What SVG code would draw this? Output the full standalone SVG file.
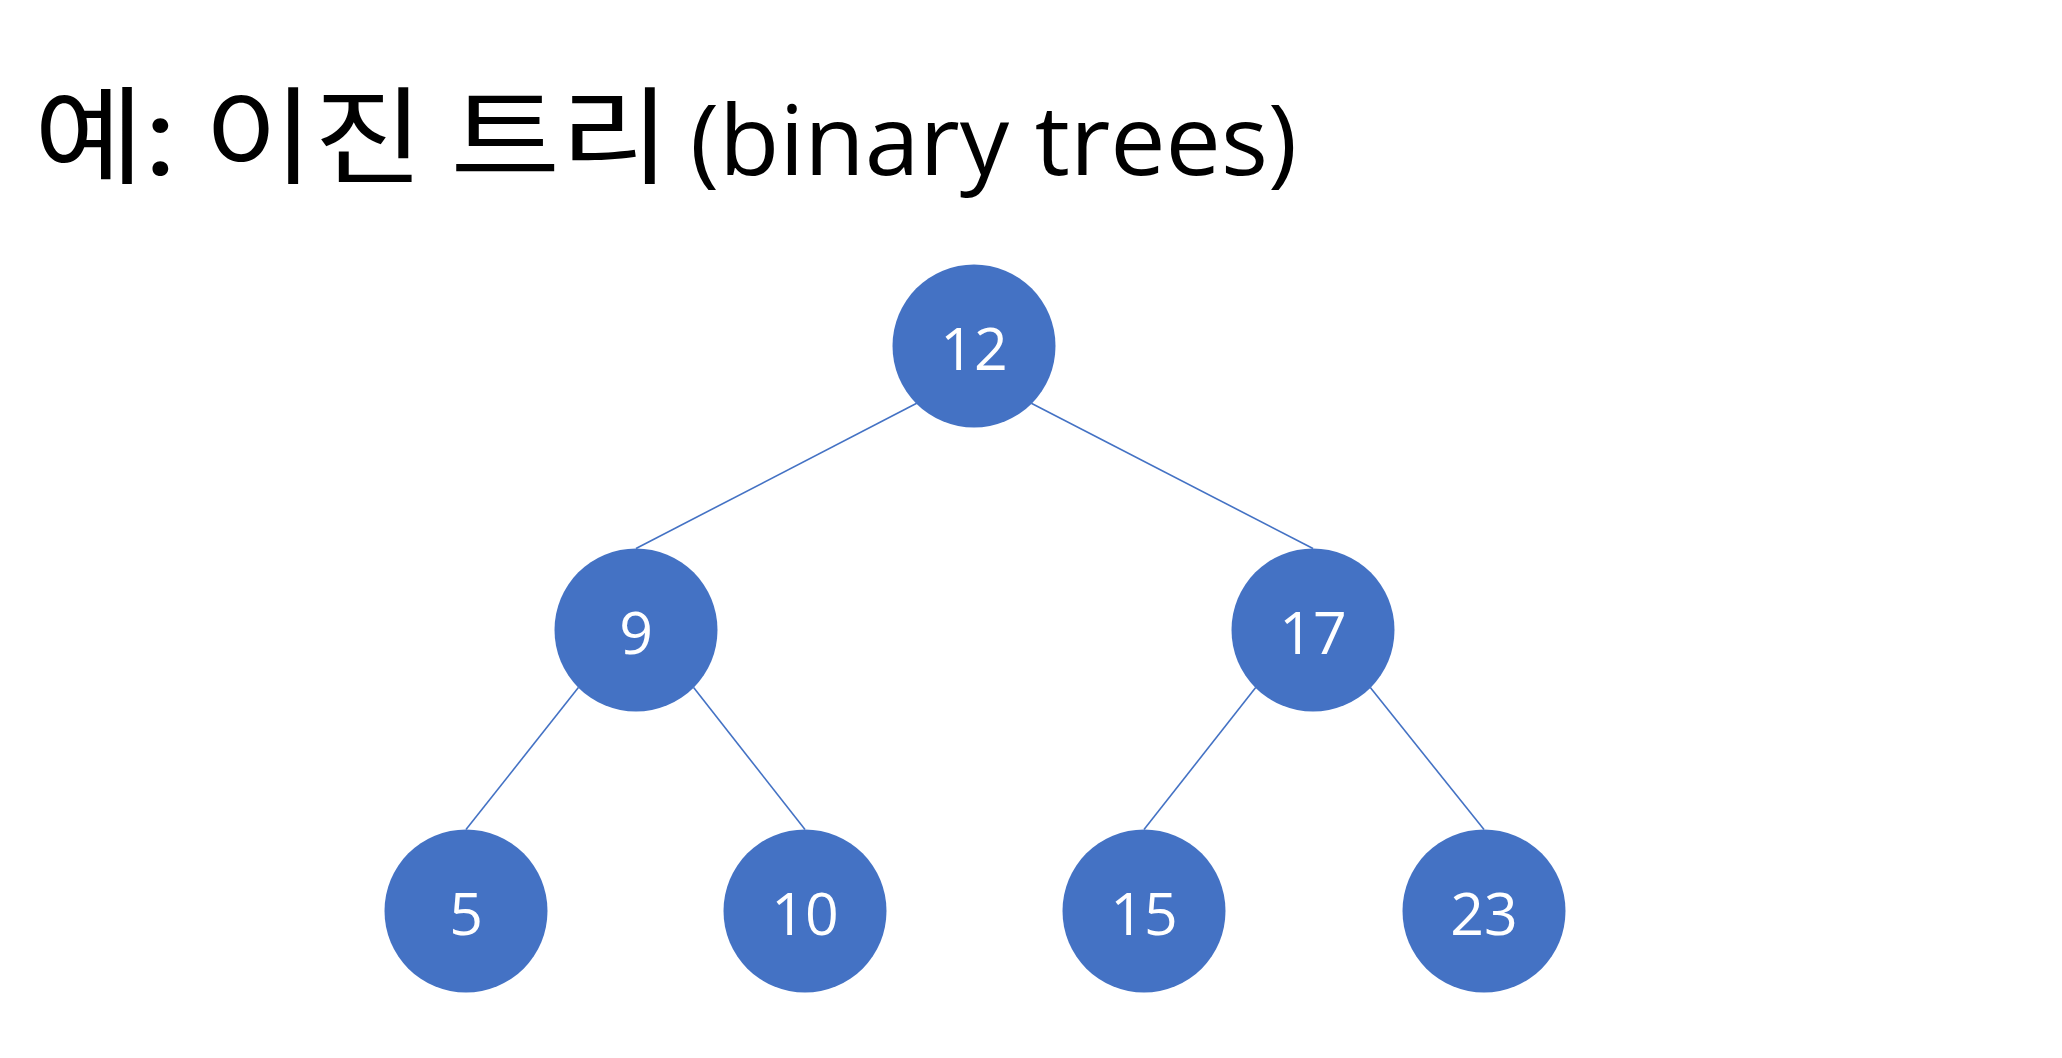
<svg xmlns="http://www.w3.org/2000/svg" width="2062" height="1058" viewBox="0 0 2062 1058">
<style>
.node circle{fill:#4472C4;}
.node text{fill:#FFFFFF;font-family:"Open Sans","Liberation Sans",sans-serif;font-size:59px;text-anchor:middle;}
.edge{stroke:#4472C4;stroke-width:1.6;fill:none;}
.title{fill:#000000;}
</style>
<rect width="2062" height="1058" fill="#FFFFFF"/>
<text class="title" x="34" y="175" font-family="'Noto Sans CJK KR',sans-serif" font-size="106" textLength="636" lengthAdjust="spacingAndGlyphs">예: 이진 트리</text>
<text class="title" x="690" y="175" font-family="'Open Sans','Liberation Sans',sans-serif" font-size="97" textLength="607" lengthAdjust="spacingAndGlyphs">(binary trees)</text>
<g id="connectors">
<line class="edge" x1="916.7" y1="403.3" x2="636" y2="548.5"/>
<line class="edge" x1="1031.3" y1="403.3" x2="1313" y2="548.5"/>
<line class="edge" x1="578.4" y1="687.6" x2="466" y2="829.5"/>
<line class="edge" x1="693.6" y1="687.6" x2="805" y2="829.5"/>
<line class="edge" x1="1255.7" y1="687.6" x2="1144" y2="829.5"/>
<line class="edge" x1="1370.3" y1="687.6" x2="1484" y2="829.5"/>
</g>
<g id="n12" class="node"><circle cx="974" cy="346" r="81.5"/><text x="974" y="370">12</text></g>
<g id="n9" class="node"><circle cx="636" cy="630" r="81.5"/><text x="636" y="654">9</text></g>
<g id="n17" class="node"><circle cx="1313" cy="630" r="81.5"/><text x="1313" y="654">17</text></g>
<g id="n5" class="node"><circle cx="466" cy="911" r="81.5"/><text x="466" y="935">5</text></g>
<g id="n10" class="node"><circle cx="805" cy="911" r="81.5"/><text x="805" y="935">10</text></g>
<g id="n15" class="node"><circle cx="1144" cy="911" r="81.5"/><text x="1144" y="935">15</text></g>
<g id="n23" class="node"><circle cx="1484" cy="911" r="81.5"/><text x="1484" y="935">23</text></g>
</svg>
